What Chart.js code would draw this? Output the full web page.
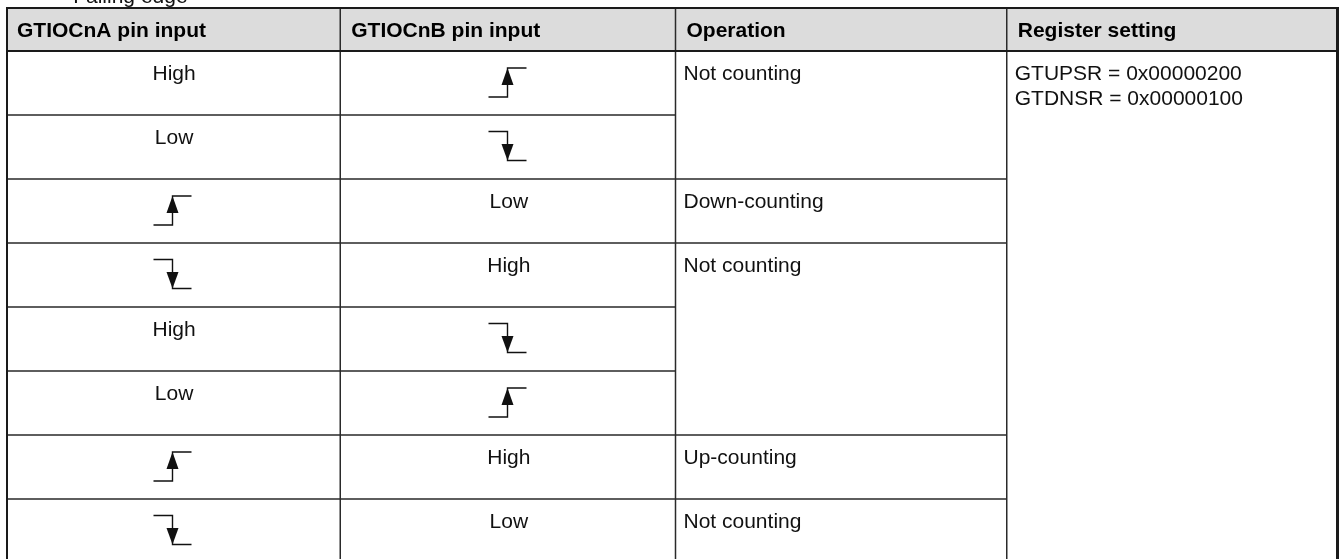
<!DOCTYPE html>
<html>
<head>
<meta charset="utf-8">
<script src="https://cdn.jsdelivr.net/npm/chart.js@4.4.0/dist/chart.umd.min.js"></script>
<style>
  html, body { margin: 0; padding: 0; background: #ffffff; }
  canvas { display: block; }
</style>
</head>
<body>
<canvas id="c" width="1341" height="559"></canvas>
<script>
// ---- data ----
const captionText = "• Falling edge";
const columnHeaders = ["GTIOCnA pin input", "GTIOCnB pin input", "Operation", "Register setting"];
const pinAInputs = ["High", "Low", "rising", "falling", "High", "Low", "rising", "falling"];
const pinBInputs = ["rising", "falling", "Low", "High", "falling", "rising", "High", "Low"];
const operationLabels = ["Not counting", "Down-counting", "Not counting", "Up-counting", "Not counting"];
const operationRowSpans = [2, 1, 3, 1, 1];
const registerSettings = ["GTUPSR = 0x00000200", "GTDNSR = 0x00000100"];

// ---- layout ----
const colEdges = [0, 334, 669, 1000, 1331];
const rowCount = pinAInputs.length;
const FONT = '"Liberation Sans", Arial, sans-serif';

const tablePlugin = {
  id: 'tablePlugin',
  beforeDraw(chart) {
    const ctx = chart.ctx;
    ctx.save();
    ctx.fillStyle = '#ffffff';
    ctx.fillRect(0, 0, chart.width, chart.height);
    ctx.restore();
  },
  afterDraw(chart) {
    const ctx = chart.ctx;
    const xs = chart.scales.x, ys = chart.scales.y;
    const X = v => xs.getPixelForValue(v);
    const Y = v => ys.getPixelForValue(v);
    const yTop = Y(ys.min), yBot = Y(ys.max);
    const xL = X(colEdges[0]), xR = X(colEdges[colEdges.length - 1]);
    ctx.save();

    // caption (clipped at top)
    ctx.fillStyle = '#111';
    ctx.font = '21px ' + FONT;
    ctx.textBaseline = 'alphabetic';
    ctx.textAlign = 'left';
    ctx.fillText(captionText, 60, 3);

    // header background
    ctx.fillStyle = '#dcdcdc';
    ctx.fillRect(xL, yTop, xR - xL, Y(0) - yTop);

    // header text
    ctx.fillStyle = '#000';
    ctx.font = 'bold 21px ' + FONT;
    const hMid = (yTop + Y(0)) / 2;
    columnHeaders.forEach((h, i) => {
      ctx.fillText(h, X(colEdges[i]) + 11, hMid + 7.5);
    });

    // body text
    ctx.font = '21px ' + FONT;
    ctx.fillStyle = '#111';
    function edge(type, cx, top) {
      ctx.save();
      ctx.strokeStyle = '#111';
      ctx.fillStyle = '#111';
      ctx.lineWidth = 1.4;
      ctx.beginPath();
      if (type === 'rising') {
        ctx.moveTo(cx - 19, top + 45); ctx.lineTo(cx, top + 45);
        ctx.lineTo(cx, top + 16); ctx.lineTo(cx + 19, top + 16);
      } else {
        ctx.moveTo(cx - 19, top + 15.5); ctx.lineTo(cx, top + 15.5);
        ctx.lineTo(cx, top + 44.5); ctx.lineTo(cx + 19, top + 44.5);
      }
      ctx.stroke();
      ctx.beginPath();
      if (type === 'rising') {
        ctx.moveTo(cx, top + 16); ctx.lineTo(cx - 6, top + 33); ctx.lineTo(cx + 6, top + 33);
      } else {
        ctx.moveTo(cx, top + 44.5); ctx.lineTo(cx - 6, top + 28); ctx.lineTo(cx + 6, top + 28);
      }
      ctx.closePath();
      ctx.fill();
      ctx.restore();
    }
    function pinCell(val, col, row) {
      const cx = (X(colEdges[col]) + X(colEdges[col + 1])) / 2;
      const top = Y(row) + 1;
      if (val === 'rising' || val === 'falling') {
        edge(val, Math.round(cx) - 0.5, top);
      } else {
        ctx.textAlign = 'center';
        ctx.fillText(val, cx + 1, top + 28);
      }
    }
    for (let r = 0; r < rowCount; r++) {
      pinCell(pinAInputs[r], 0, r);
      pinCell(pinBInputs[r], 1, r);
    }
    ctx.textAlign = 'left';
    let start = 0;
    const opBoundaries = [];
    operationLabels.forEach((lab, i) => {
      ctx.fillText(lab, X(colEdges[2]) + 8, Y(start) + 29);
      start += operationRowSpans[i];
      opBoundaries.push(start);
    });
    registerSettings.forEach((t, i) => {
      ctx.fillText(t, X(colEdges[3]) + 8, Y(0) + 29 + i * 25);
    });

    // grid lines
    ctx.strokeStyle = '#2a2a2a';
    ctx.lineWidth = 1.5;
    ctx.beginPath();
    for (let r = 1; r < rowCount; r++) {
      const y = Y(r);
      ctx.moveTo(xL, y); ctx.lineTo(X(colEdges[2]), y);
    }
    opBoundaries.forEach(b => {
      if (b < rowCount) {
        const y = Y(b);
        ctx.moveTo(X(colEdges[2]), y); ctx.lineTo(X(colEdges[3]), y);
      }
    });
    for (let c = 1; c < colEdges.length - 1; c++) {
      const x = X(colEdges[c]);
      ctx.moveTo(x, yTop); ctx.lineTo(x, yBot);
    }
    ctx.stroke();

    // header bottom and outer borders
    ctx.strokeStyle = '#1a1a1a';
    ctx.lineWidth = 2;
    ctx.beginPath();
    ctx.moveTo(xL, Y(0)); ctx.lineTo(xR, Y(0));
    ctx.moveTo(xL, yTop + 1); ctx.lineTo(xR, yTop + 1);
    ctx.moveTo(xL + 1, yTop); ctx.lineTo(xL + 1, yBot);
    ctx.stroke();
    ctx.lineWidth = 3;
    ctx.beginPath();
    ctx.moveTo(xR - 0.5, yTop); ctx.lineTo(xR - 0.5, yBot);
    ctx.stroke();
    ctx.restore();
  }
};

new Chart(document.getElementById('c'), {
  type: 'scatter',
  data: { datasets: [{ data: [] }] },
  options: {
    responsive: false,
    animation: false,
    events: [],
    layout: { padding: { left: 6, top: 7, right: 3, bottom: 0 } },
    plugins: { legend: { display: false }, tooltip: { enabled: false }, title: { display: false } },
    scales: {
      x: { type: 'linear', display: false, min: colEdges[0], max: colEdges[colEdges.length - 1] },
      y: { type: 'linear', display: false, reverse: true, min: -44 / 64, max: 508 / 64 }
    }
  },
  plugins: [tablePlugin]
});
</script>
</body>
</html>
